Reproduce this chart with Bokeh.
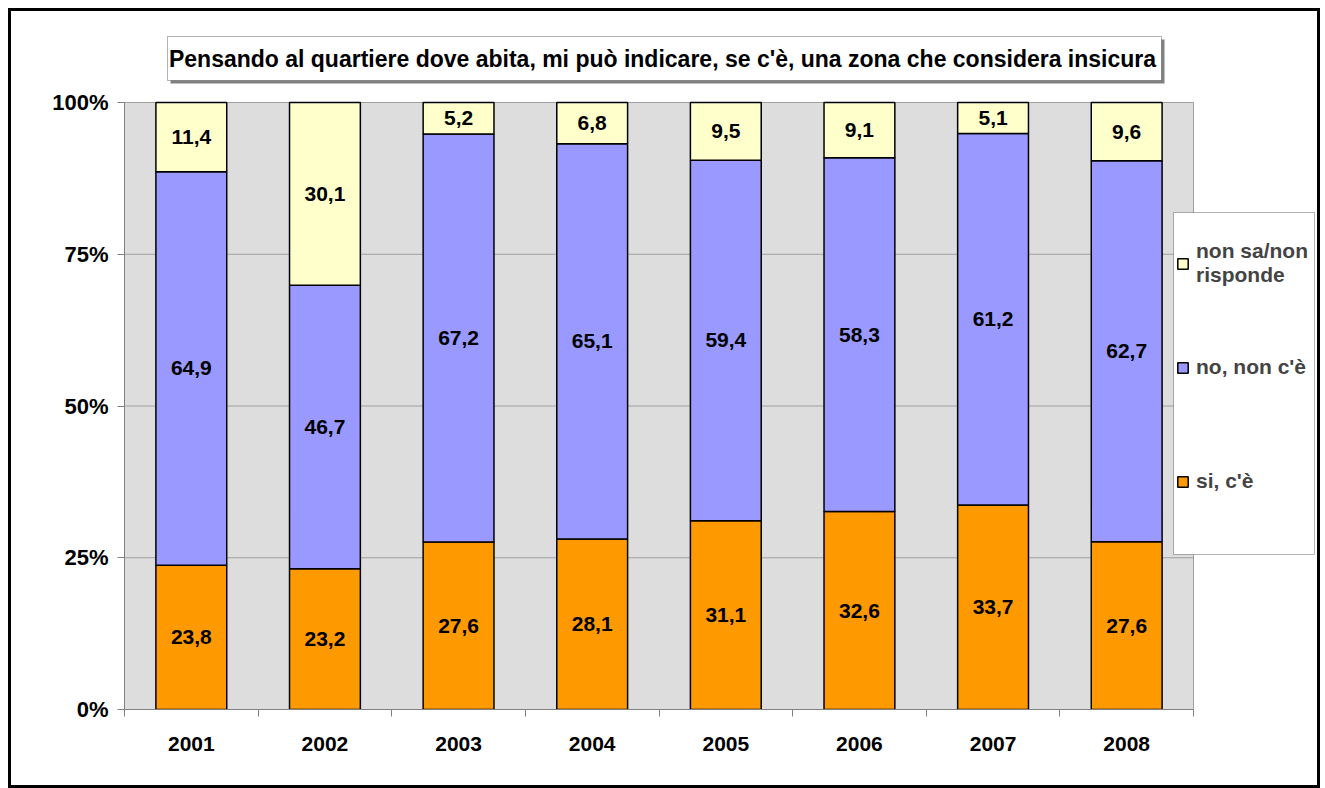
from bokeh.plotting import figure
from bokeh.models import (ColumnDataSource, FixedTicker, Legend, LegendItem,
                          BoxAnnotation, Label, Range1d)
from bokeh.core.properties import value
from bokeh.embed import file_html
from bokeh.resources import INLINE

# ---------------- data ----------------
years = ["2001", "2002", "2003", "2004", "2005", "2006", "2007", "2008"]
si_ce = [23.8, 23.2, 27.6, 28.1, 31.1, 32.6, 33.7, 27.6]
no_non_ce = [64.9, 46.7, 67.2, 65.1, 59.4, 58.3, 61.2, 62.7]
non_sa = [11.4, 30.1, 5.2, 6.8, 9.5, 9.1, 5.1, 9.6]
series_names = ["si, c'è", "no, non c'è", "non sa/non\nrisponde"]
colors = ["#FF9900", "#9999FF", "#FFFFCC"]
y_ticks = [0, 0.25, 0.5, 0.75, 1.0]
y_tick_labels = ["0%", "25%", "50%", "75%", "100%"]
title_text = "Pensando al quartiere dove abita, mi può indicare, se c'è, una zona che considera insicura"

FONT = "Liberation Sans"
N = len(years)

# ---------------- layout (canvas pixels; canvas origin = page (11, 11)) ----------------
BORDER = 3
W, H = 1312, 780                         # element size (border drawn at its edge)
PL, PR, PT, PB = 113, 1182, 91, 698      # plot area (0..N, 0..1)
FR, FT = 1304, 3                         # extended frame right / top
px_per_x = (PR - PL) / N
px_per_y = (PB - PT) / 1.0
x_end = (FR - PL) / px_per_x
y_end = (PB - FT) / px_per_y

# 100% stacked: normalise each year
xs = [i + 0.5 for i in range(N)]
tot = [a + b + c for a, b, c in zip(si_ce, no_non_ce, non_sa)]
s1 = [a / t for a, t in zip(si_ce, tot)]
s2 = [b / t for b, t in zip(no_non_ce, tot)]
s3 = [c / t for c, t in zip(non_sa, tot)]
src = ColumnDataSource(dict(x=xs, si=s1, no=s2, ns=s3))

p = figure(width=W, height=H, x_range=Range1d(0, x_end), y_range=Range1d(0, y_end),
           output_backend="svg", toolbar_location=None,
           min_border_left=PL, min_border_right=W - FR, min_border_top=FT,
           min_border_bottom=H - PB,
           background_fill_color="white", border_fill_color="white",
           outline_line_color=None)
p.margin = (8, 0, 0, 8)
p.styles = {"border": f"{BORDER}px solid black"}

# plot area background + grid lines
p.quad(left=[0], right=[N], bottom=[0], top=[1], fill_color="#DDDDDD", line_color=None)
grid_y = [t for t in y_ticks if t > 0]
p.segment(x0=[0] * len(grid_y), x1=[N] * len(grid_y), y0=grid_y, y1=grid_y,
          line_color="#A0A0A0", line_width=1)
p.segment(x0=[N], x1=[N], y0=[0], y1=[1], line_color="#A0A0A0", line_width=1)

rs = p.vbar_stack(["si", "no", "ns"], x="x", width=0.53, color=colors,
                  line_color="black", line_width=1.5, source=src)

# value labels
lx, ly, lt = [], [], []
for i in range(N):
    base = 0.0
    for share, raw in ((s1[i], si_ce[i]), (s2[i], no_non_ce[i]), (s3[i], non_sa[i])):
        lx.append(xs[i])
        ly.append(base + share / 2)
        lt.append(f"{raw:.1f}".replace(".", ","))
        base += share
p.text(x="x", y="y", text="t", source=ColumnDataSource(dict(x=lx, y=ly, t=lt)),
       text_align="center", text_baseline="middle", text_font=value(FONT),
       text_font_style="bold", text_font_size="21px", text_color="black")

p.xgrid.visible = False
p.ygrid.visible = False

# y axis
p.yaxis.bounds = (0, 1)
p.yaxis.ticker = FixedTicker(ticks=y_ticks)
p.yaxis.major_label_overrides = dict(zip(y_ticks, y_tick_labels))
p.yaxis.axis_line_color = "#808080"
p.yaxis.major_tick_line_color = "#808080"
p.yaxis.major_tick_out = 7
p.yaxis.major_tick_in = 0
p.yaxis.minor_tick_line_color = None
p.yaxis.major_label_standoff = 9
p.yaxis.major_label_text_font = FONT
p.yaxis.major_label_text_font_style = "bold"
p.yaxis.major_label_text_font_size = "22px"
p.yaxis.major_label_text_color = "black"

# x axis
p.xaxis.bounds = (0, N)
p.xaxis.ticker = FixedTicker(ticks=xs, minor_ticks=list(range(N + 1)))
p.xaxis.major_label_overrides = dict(zip(xs, years))
p.xaxis.axis_line_color = "#808080"
p.xaxis.major_tick_line_color = None
p.xaxis.major_tick_out = 0
p.xaxis.major_tick_in = 0
p.xaxis.minor_tick_line_color = "#808080"
p.xaxis.minor_tick_out = 7
p.xaxis.minor_tick_in = 0
p.xaxis.major_label_standoff = 20
p.xaxis.major_label_text_font = FONT
p.xaxis.major_label_text_font_style = "bold"
p.xaxis.major_label_text_font_size = "21px"
p.xaxis.major_label_text_color = "black"


def canvas_box(l, r, t, b, **kw):
    return BoxAnnotation(left=l, right=r, top=t, bottom=b,
                         left_units="canvas", right_units="canvas",
                         top_units="canvas", bottom_units="canvas", **kw)


# title box with shadow
p.add_layout(canvas_box(156, 1150, 25, 69, fill_color="#808080", fill_alpha=1, line_color=None))
p.add_layout(canvas_box(153, 1147, 22, 66, fill_color="white", fill_alpha=1,
                        line_color="black", line_width=1))
p.add_layout(Label(x=648, y=44, x_units="canvas", y_units="canvas", text=title_text,
                   text_align="center", text_baseline="middle", text_font=FONT,
                   text_font_style="bold", text_font_size="23px", text_color="black"))

# legend box
p.add_layout(canvas_box(1159, 1300, 198, 540, fill_color="white", fill_alpha=1,
                        line_color="black", line_width=1))

leg_items = [(series_names[2], rs[2], 422), (series_names[1], rs[1], 330),
             (series_names[0], rs[0], 216)]
for name, r, ly0 in leg_items:
    lg = Legend(items=[LegendItem(label=name, renderers=[r])],
                location=(1052, ly0), padding=0, margin=0,
                glyph_width=13, glyph_height=13, label_standoff=7,
                label_text_font=FONT, label_text_font_style="bold",
                label_text_font_size="21px",
                background_fill_alpha=0, border_line_color=None)
    p.add_layout(lg, "center")

open("out.html", "w").write(file_html(p, INLINE))
